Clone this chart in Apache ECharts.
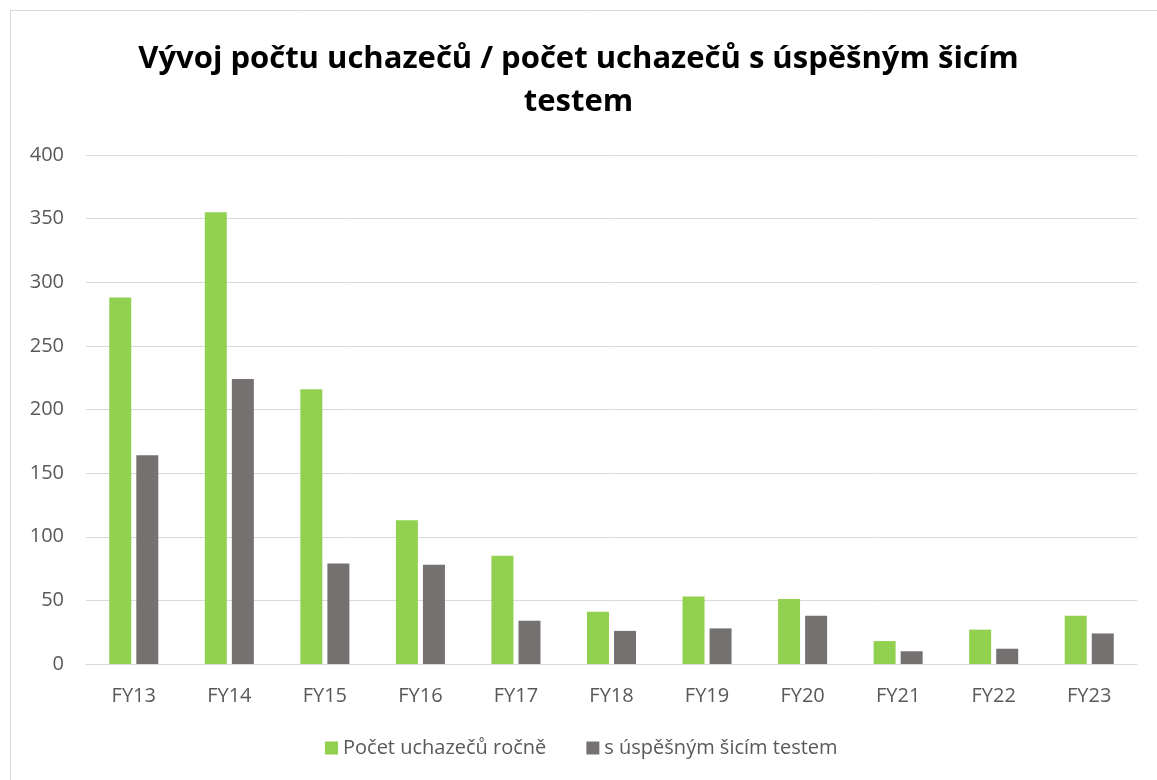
<!DOCTYPE html>
<html>
<head>
<meta charset="utf-8">
<script src="https://cdn.jsdelivr.net/npm/echarts@6/dist/echarts.min.js"></script>
<style>
  html, body { margin: 0; padding: 0; background: #fff; }
  #chart { width: 1157px; height: 780px; }
</style>
</head>
<body>
<div id="chart"></div>
<script>
// roky
const categories = ['FY13', 'FY14', 'FY15', 'FY16', 'FY17', 'FY18', 'FY19', 'FY20', 'FY21', 'FY22', 'FY23']
// Počet uchazečů ročně
const uchazeci = [288, 355, 216, 113, 85, 41, 53, 51, 18, 27, 38]
// s úspěšným šicím testem
const uspesni = [164, 224, 79, 78, 34, 26, 28, 38, 10, 12, 24]
const yTicks = [0, 50, 100, 150, 200, 250, 300, 350, 400]

const font = '"Open Sans", "Noto Sans", sans-serif'
const chart = echarts.init(document.getElementById('chart'))

const option = {
  backgroundColor: '#fff',
  animation: false,
  graphic: [{
    type: 'rect',
    shape: { x: 10.5, y: 10.5, width: 1200, height: 800 },
    style: { fill: 'none', stroke: '#d9d9d9', lineWidth: 1 },
    silent: true
  }],
  title: {
    text: 'Vývoj počtu uchazečů / počet uchazečů s úspěšným šicím\ntestem',
    left: 'center',
    top: 33,
    textStyle: {
      fontFamily: font,
      fontWeight: 'bold',
      fontSize: 31,
      lineHeight: 43,
      color: '#000'
    }
  },
  legend: {
    bottom: 17,
    left: 320,
    itemWidth: 13,
    itemHeight: 13,
    itemGap: 40,
    icon: 'rect',
    textStyle: { fontFamily: font, fontSize: 20, color: '#595959' },
    data: ['Počet uchazečů ročně', 's úspěšným šicím testem']
  },
  grid: {
    left: 86,
    right: 20,
    top: 155,
    bottom: 116,
    containLabel: false
  },
  xAxis: {
    type: 'category',
    data: categories,
    axisTick: { show: false },
    axisLine: { lineStyle: { color: '#d9d9d9', width: 1 } },
    axisLabel: { fontFamily: font, fontSize: 20, color: '#595959', margin: 22 }
  },
  yAxis: {
    type: 'value',
    min: yTicks[0],
    max: yTicks[yTicks.length - 1],
    interval: 50,
    axisLine: { show: false },
    axisTick: { show: false },
    splitLine: { lineStyle: { color: '#d9d9d9', width: 1 } },
    axisLabel: { fontFamily: font, fontSize: 20, color: '#595959', margin: 22 }
  },
  series: [
    {
      name: 'Počet uchazečů ročně',
      type: 'bar',
      data: uchazeci,
      barWidth: 22,
      barGap: '23%',
      itemStyle: { color: '#92d050' }
    },
    {
      name: 's úspěšným šicím testem',
      type: 'bar',
      data: uspesni,
      barWidth: 22,
      itemStyle: { color: '#767171' }
    }
  ]
}

chart.setOption(option)
</script>
</body>
</html>
